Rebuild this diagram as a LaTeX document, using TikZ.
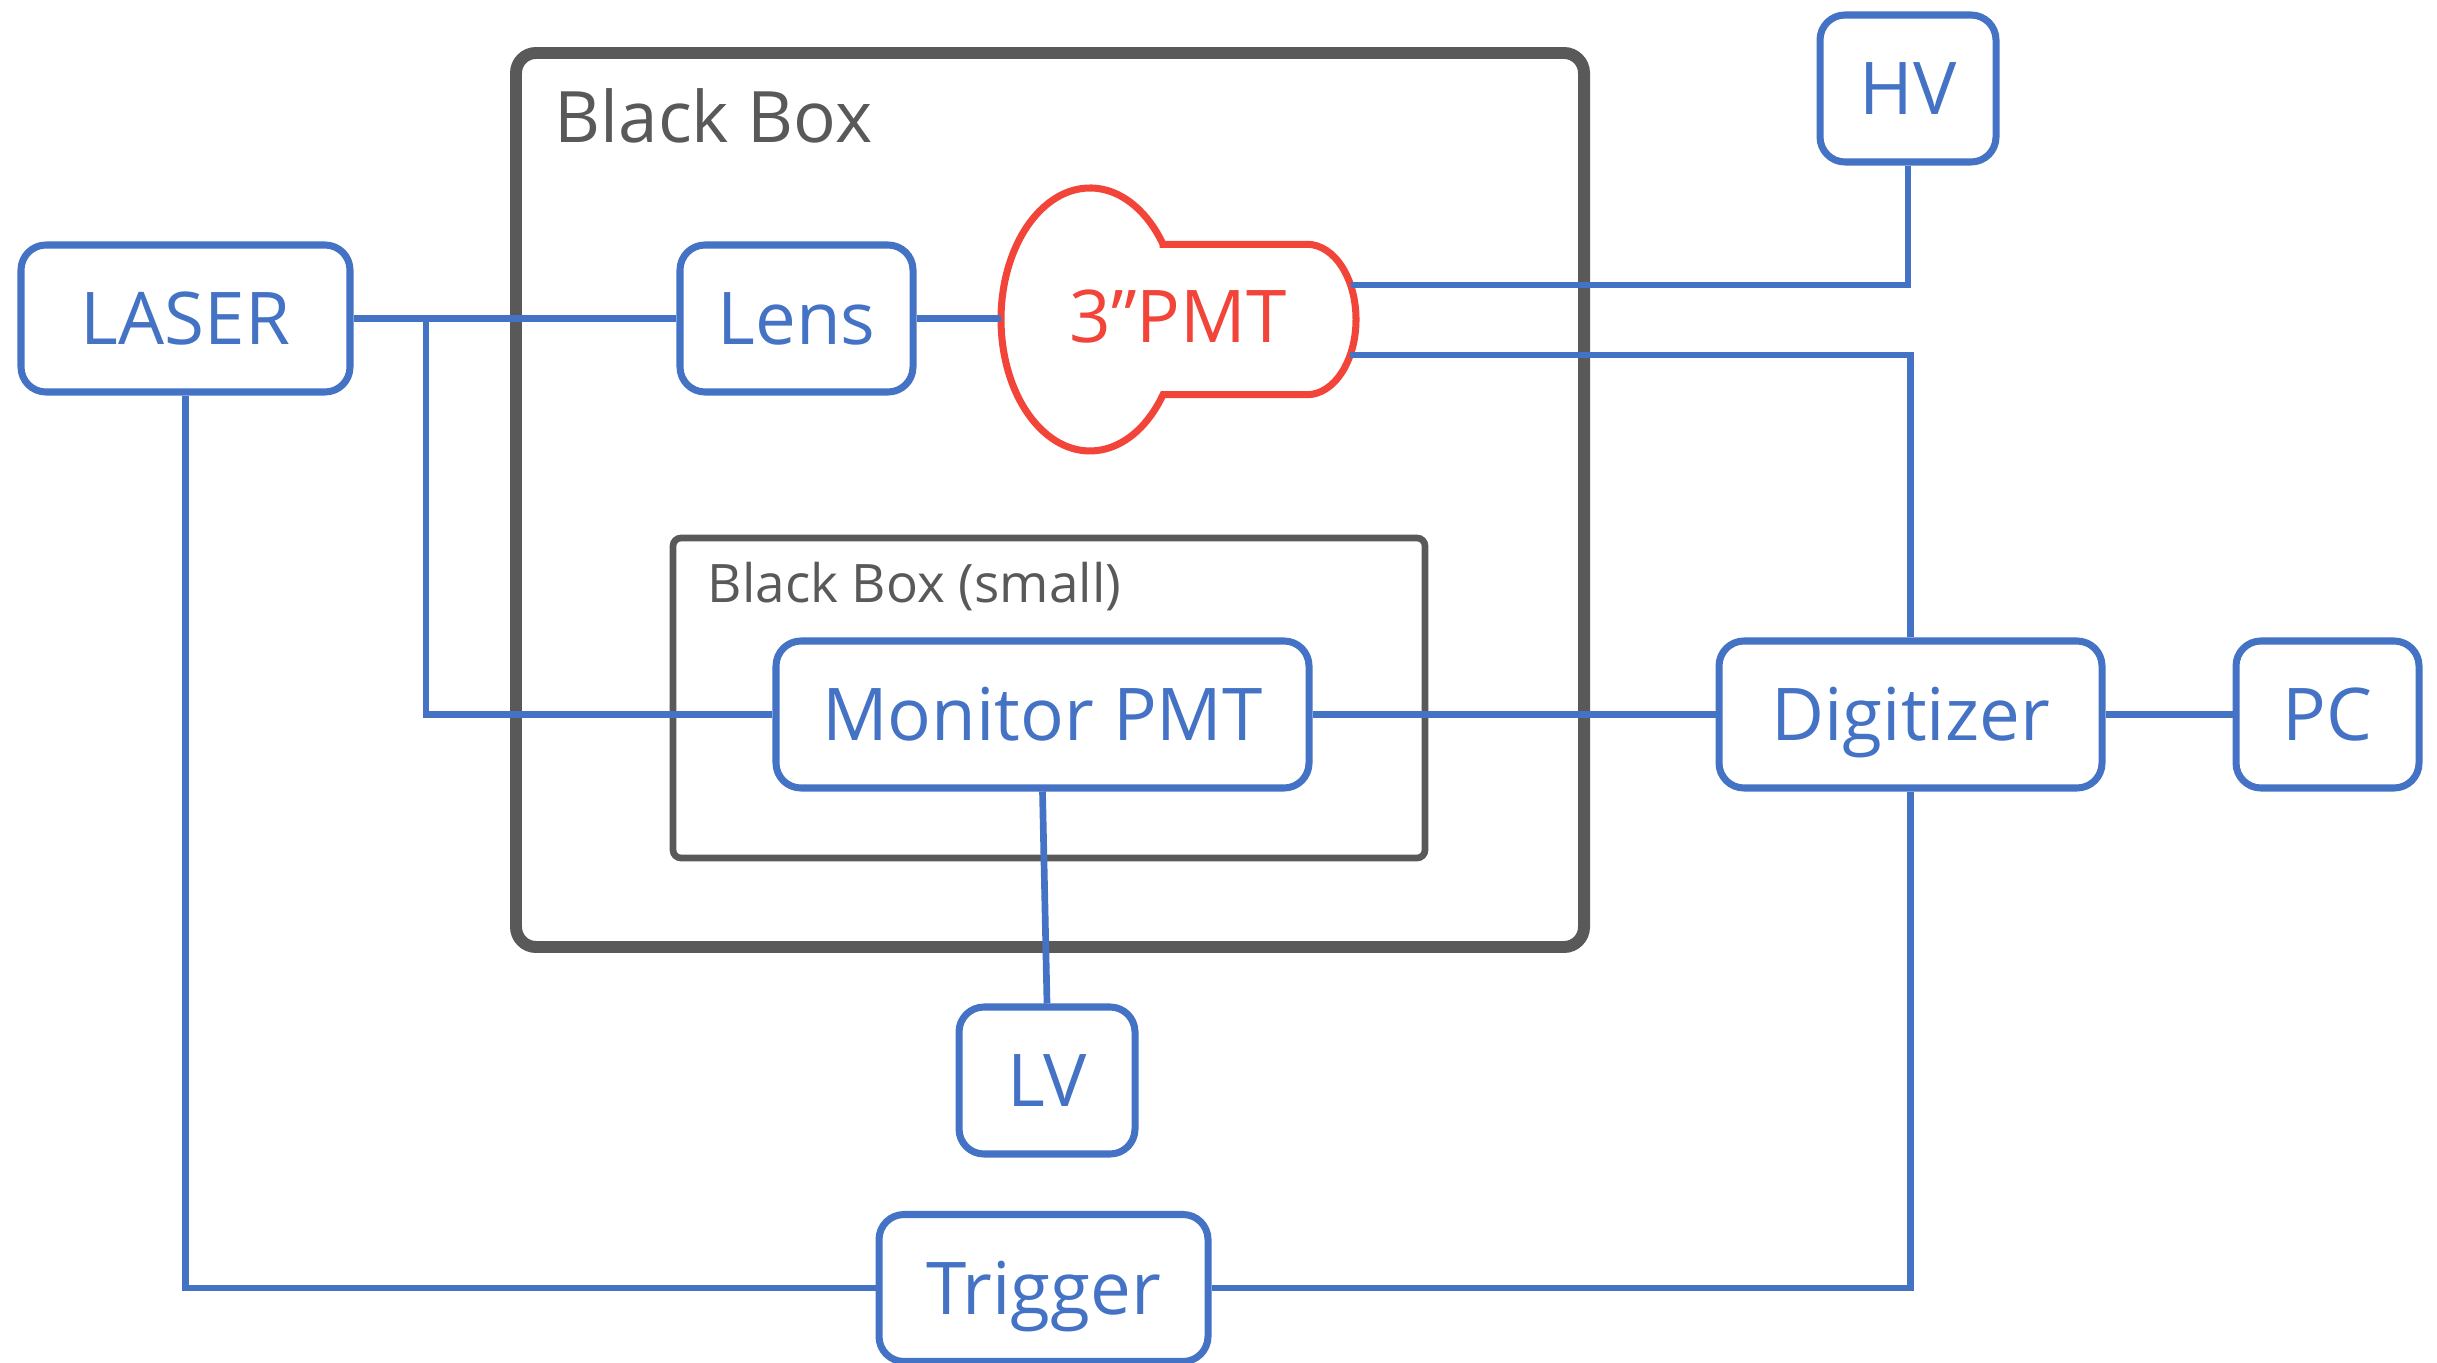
\documentclass[tikz,border=0pt]{standalone}
\usepackage{fontspec}
\setmainfont{Open Sans}
\usepackage{xcolor}
\usepackage{tikz}
\usetikzlibrary{positioning, calc}

\definecolor{devblue}{RGB}{68,114,196}
\definecolor{pmtred}{RGB}{242,68,56}
\definecolor{boxgray}{RGB}{89,89,89}

\begin{document}
\begin{tikzpicture}[
    device/.style={draw=devblue, line width=2pt, rounded corners=0.25cm, fill=white,
        text=devblue, minimum height=1.47cm, inner sep=0pt,
        font=\fontsize{20.7}{24}\selectfont, text height=0.52cm, text depth=0pt},
    wire/.style={devblue, line width=1.9pt},
    bigbox/.style={draw=boxgray, line width=3.4pt, rounded corners=0.2cm},
    smallbox/.style={draw=boxgray, line width=1.9pt, rounded corners=0.08cm}
]
    \useasboundingbox (0,0) rectangle (24.37,13.62);

    % Black boxes
    \draw[bigbox] (5.16,13.09) rectangle (15.84,4.15);
    \node[anchor=base west, text=boxgray, font=\fontsize{20.2}{24}\selectfont, inner sep=0pt] (bblabel) at (5.54,12.19) {Black Box};
    \draw[smallbox] (6.73,8.24) rectangle (14.25,5.04);
    \node[anchor=base west, text=boxgray, font=\fontsize{15.1}{18}\selectfont, inner sep=0pt] (sblabel) at (7.07,7.59) {Black Box (small)};

    % Devices
    \node[device, minimum width=3.29cm] (laser) at (1.855,10.435) {LASER};
    \node[device, minimum width=2.33cm] (lens) at (7.965,10.435) {Lens};
    \node[device, minimum width=1.76cm] (hv) at (19.08,12.735) {HV};
    \node[device, minimum width=5.33cm] (monitor) at (10.425,6.475) {Monitor PMT};
    \node[device, minimum width=3.83cm] (digitizer) at (19.105,6.475) {Digitizer};
    \node[device, minimum width=1.83cm] (pc) at (23.275,6.475) {PC};
    \node[device, minimum width=1.76cm] (lv) at (10.47,2.815) {LV};
    \node[device, minimum width=3.29cm] (trigger) at (10.435,0.74) {Trigger};

    % 3" PMT
    \draw[pmtred, line width=2pt, fill=white] (11.63,11.177) -- (13.07,11.177)
        arc[start angle=90, end angle=-90, x radius=0.49, y radius=0.752]
        -- (11.63,9.673)
        arc[start angle=-34.9, end angle=-325.1, x radius=0.89, y radius=1.315] -- cycle;
    \node[text=pmtred, font=\fontsize{20.7}{24}\selectfont, inner sep=0pt, text height=0.52cm, text depth=0pt] (pmt) at (11.78,10.45) {3”PMT};
    \coordinate (pmtin) at (10.01,10.435);
    \coordinate (pmthv) at (13.507,10.77);
    \coordinate (pmtsig) at (13.50,10.07);
    \coordinate (lasbr) at (4.26,10.435);

    % Wires
    \draw[wire] (laser.east) -- (lens.west);
    \draw[wire] (lasbr) |- (monitor.west);
    \draw[wire] (lens.east) -- (pmtin);
    \draw[wire] (pmthv) -| (hv.south);
    \draw[wire] (pmtsig) -| (digitizer.north);
    \draw[wire] (monitor.east) -- (digitizer.west);
    \draw[wire] (digitizer.east) -- (pc.west);
    \draw[wire] (monitor.south) -- (lv.north);
    \draw[wire] (laser.south) |- (trigger.west);
    \draw[wire] (trigger.east) -| (digitizer.south);
\end{tikzpicture}
\end{document}
